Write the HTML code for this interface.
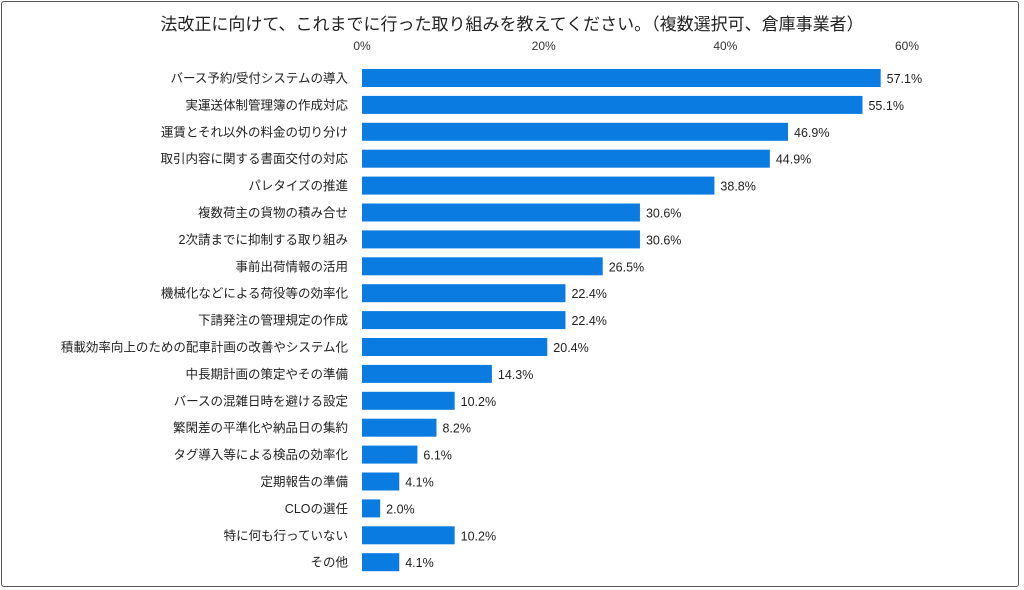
<!DOCTYPE html>
<html><head><meta charset="utf-8"><style>
body{margin:0;width:1024px;height:590px;background:#fff;overflow:hidden;font-family:"Liberation Sans","Noto Sans CJK JP",sans-serif;}
#frame{position:absolute;left:1px;top:1px;width:1018px;height:586px;border:1.5px solid #555;border-radius:3px;box-sizing:border-box;}
</style></head><body>
<div id="frame"></div>
<svg id="c" width="1024" height="590" style="position:absolute;left:0;top:0">
<text x="512" y="30" text-anchor="middle" font-size="17" fill="#222">法改正に向けて、これまでに行った取り組みを教えてください。（複数選択可、倉庫事業者）</text>
</svg>
<script>
const categories=["バース予約/受付システムの導入","実運送体制管理簿の作成対応","運賃とそれ以外の料金の切り分け","取引内容に関する書面交付の対応","パレタイズの推進","複数荷主の貨物の積み合せ","2次請までに抑制する取り組み","事前出荷情報の活用","機械化などによる荷役等の効率化","下請発注の管理規定の作成","積載効率向上のための配車計画の改善やシステム化","中長期計画の策定やその準備","バースの混雑日時を避ける設定","繁閑差の平準化や納品日の集約","タグ導入等による検品の効率化","定期報告の準備","CLOの選任","特に何も行っていない","その他"];
const values=[57.1,55.1,46.9,44.9,38.8,30.6,30.6,26.5,22.4,22.4,20.4,14.3,10.2,8.2,6.1,4.1,2.0,10.2,4.1];
const ticks=[0,20,40,60];
const svg=document.getElementById('c');const NS='http://www.w3.org/2000/svg';
const x0=362,pxPer=(907-362)/60;
const xs=v=>x0+v*pxPer;
const ys=i=>78+i*26.9;
function el(t,a){const e=document.createElementNS(NS,t);for(const k in a)e.setAttribute(k,a[k]);svg.appendChild(e);return e;}
ticks.forEach(t=>{const e=el('text',{x:xs(t),y:50,'text-anchor':'middle','font-size':12,fill:'#333'});e.textContent=t+'%';

});
categories.forEach((c,i)=>{const y=ys(i);
const l=el('text',{x:348,y:y+4.5,'text-anchor':'end','font-size':12.5,fill:'#222'});l.textContent=c;


const r=el('rect',{x:x0,y:y-9,width:xs(values[i])-x0,height:18,fill:'#0a7be0'});


const v=el('text',{x:xs(values[i])+6,y:y+5,'font-size':12.5,fill:'#222'});v.textContent=values[i].toFixed(1)+'%';

});
</script>
</body></html>
